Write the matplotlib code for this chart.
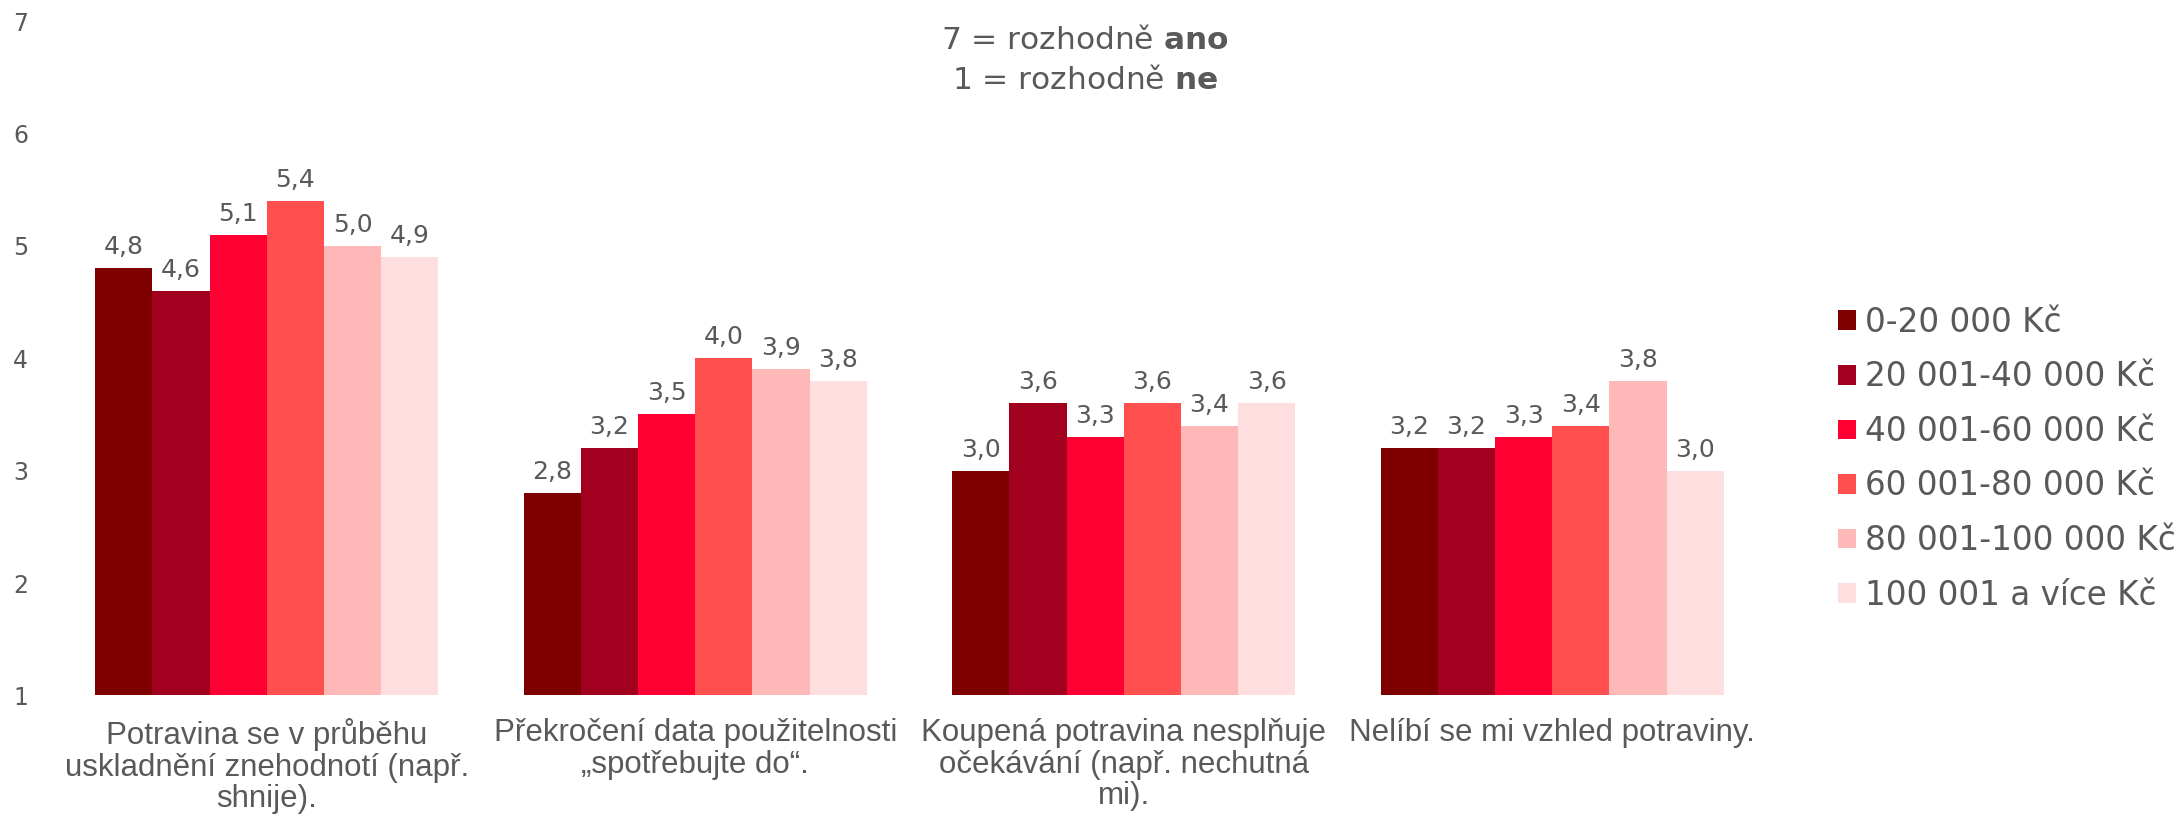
import matplotlib
matplotlib.use("Agg")
import matplotlib.pyplot as plt
import numpy as np
from matplotlib.patches import Patch

categories = [
    "Potravina se v průběhu\nuskladnění znehodnotí (např.\nshnije).",
    "Překročení data použitelnosti\n„spotřebujte do“.",
    "Koupená potravina nesplňuje\nočekávání (např. nechutná\nmi).",
    "Nelíbí se mi vzhled potraviny.",
]
series_names = [
    "0-20 000 Kč",
    "20 001-40 000 Kč",
    "40 001-60 000 Kč",
    "60 001-80 000 Kč",
    "80 001-100 000 Kč",
    "100 001 a více Kč",
]
inc_0_20 = [4.8, 2.8, 3.0, 3.2]
inc_20_40 = [4.6, 3.2, 3.6, 3.2]
inc_40_60 = [5.1, 3.5, 3.3, 3.3]
inc_60_80 = [5.4, 4.0, 3.6, 3.4]
inc_80_100 = [5.0, 3.9, 3.4, 3.8]
inc_100_plus = [4.9, 3.8, 3.6, 3.0]
yticks = [1, 2, 3, 4, 5, 6, 7]

colors = ["#7F0000", "#A2001F", "#FF0033", "#FF4F4F", "#FFB8B8", "#FFDEDF"]
TEXT = "#595959"

series = [inc_0_20, inc_20_40, inc_40_60, inc_60_80, inc_80_100, inc_100_plus]

fig = plt.figure(figsize=(21.83, 8.25), dpi=100)
ax = fig.add_axes([52.5 / 2183, 0.157, 1714 / 2183, 0.9745 - 0.157])

x = np.arange(len(categories))
width = 0.8 / len(series)
for i, (vals, name, col) in enumerate(zip(series, series_names, colors)):
    pos = x - 0.4 + width * (i + 0.5)
    heights = np.array(vals) - 1
    ax.bar(pos, heights, width=width, bottom=1, color=col, label=name)
    for px, v in zip(pos, vals):
        ax.annotate(f"{v:.1f}".replace(".", ","), (px, v), xytext=(0, 6.5),
                    textcoords="offset points", ha="center", va="bottom",
                    fontsize=18, color=TEXT, family="DejaVu Sans")

ax.set_xlim(-0.5, len(categories) - 0.5)
ax.set_ylim(1, 7)
ax.set_yticks(yticks)
ax.set_yticklabels([str(t) for t in yticks], fontsize=17, color=TEXT)
ax.set_xticks(x)
ax.set_xticklabels(categories, fontsize=22.5, color=TEXT,
                   family=["Liberation Sans", "DejaVu Sans"], linespacing=1.08)
ax.tick_params(axis="y", length=0, pad=17.5)
ax.tick_params(axis="x", length=0, pad=16)
for s in ax.spines.values():
    s.set_visible(False)

fig.text(0.497, 0.951, r"7 = rozhodně $\mathbf{ano}$", ha="center", va="center",
         fontsize=22.5, color=TEXT)
fig.text(0.497, 0.902, r"1 = rozhodně $\mathbf{ne}$", ha="center", va="center",
         fontsize=22.5, color=TEXT)

handles = [Patch(facecolor=c) for c in colors]
fig.legend(handles, series_names, loc="center left",
           bbox_to_anchor=(1838 / 2183, 0.444), frameon=False,
           fontsize=23.5, labelcolor=TEXT, handlelength=0.55, handleheight=0.55,
           handletextpad=0.28, labelspacing=0.66, borderpad=0, borderaxespad=0)

fig.savefig("out.png", dpi=100)
